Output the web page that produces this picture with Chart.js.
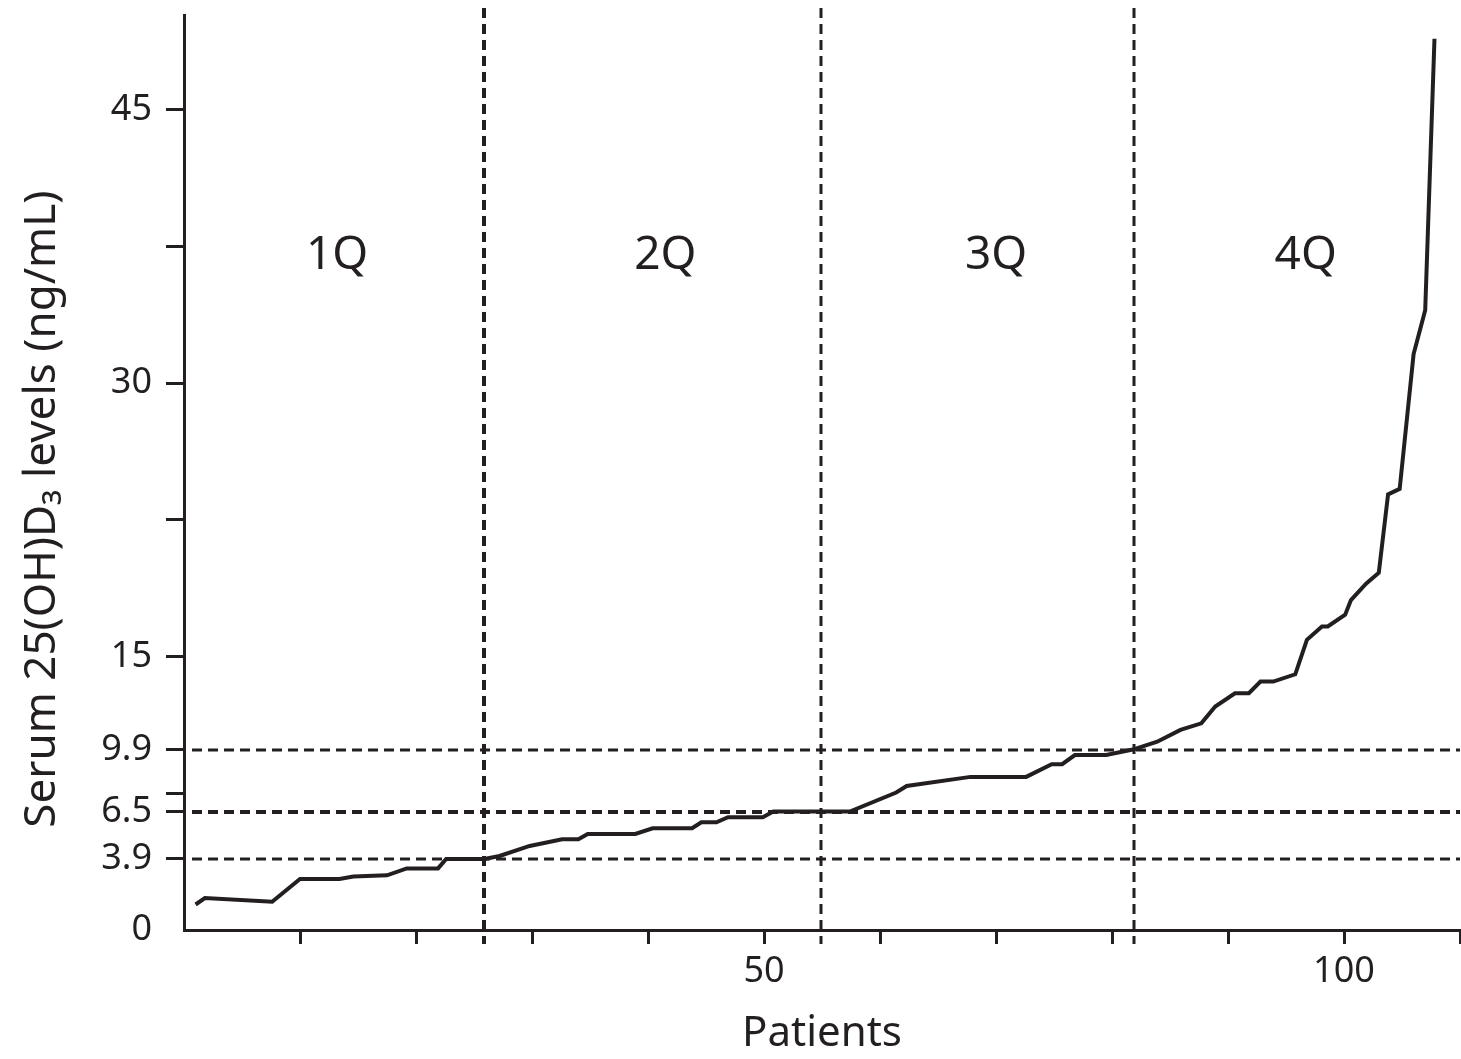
<!DOCTYPE html>
<html>
<head>
<meta charset="utf-8">
<script src="https://cdn.jsdelivr.net/npm/chart.js@4"></script>
<style>
  html, body { margin: 0; padding: 0; background: #fff; }
  #wrap { width: 1461px; height: 1059px; position: relative; }
</style>
</head>
<body>
<div id="wrap"><canvas id="graph"></canvas></div>
<script>
// Curve vertices (patient rank, serum level)
const patients = [1, 1.8, 7.6, 10, 13.4, 14.6, 17.5, 19.2, 21.9, 22.6, 25.9,
  27.2, 29.8, 32.6, 34, 34.8, 38.9, 40.4, 43.8, 44.6, 45.9, 46.9, 49.9, 50.8, 57.4,
  61.4, 62.3, 67.8, 72.6, 74.8, 75.7, 76.8, 79.5, 81.8, 83.9, 85.9, 87.7, 88.9,
  90.6, 91.8, 92.8, 93.9, 95.8, 96.8, 98.1, 98.6, 100.1, 100.6, 101.9, 103, 103.8,
  104.8, 106, 107, 107.8];
const levels = [1.4, 1.75, 1.55, 2.8, 2.8, 2.93, 3.0, 3.38, 3.38, 3.9, 3.9,
  4.06, 4.61, 4.98, 4.98, 5.27, 5.27, 5.58, 5.58, 5.91, 5.91, 6.19, 6.19, 6.5, 6.5,
  7.54, 7.9, 8.4, 8.4, 9.1, 9.1, 9.6, 9.6, 9.9, 10.33, 10.98, 11.34, 12.26,
  12.99, 12.99, 13.63, 13.63, 14.03, 15.92, 16.65, 16.65, 17.3, 18.1, 19.0, 19.6, 23.9,
  24.2, 31.6, 34.0, 48.9];

const yTicks      = [0, 3.9, 6.5, 7.5, 9.9, 15, 22.5, 30, 37.5, 45];
const yTickLabels = ['0', '3.9', '6.5', '', '9.9', '15', '', '30', '', '45'];
const xLabelled   = [50, 100];
const yTitle      = 'Serum 25(OH)D\u2083 levels (ng/mL)';

// quartile cut-offs
const cutLevels   = [3.9, 6.5, 9.9];
const cutPatients = [25.9, 54.9, 81.9];

const quartiles = ['1Q', '2Q', '3Q', '4Q'];
const quartileX = [13.2, 41.5, 70, 96.7];
const quartileY = 37;

const ink  = '#231f20';
const font = '"Noto Sans", "Open Sans", sans-serif';

const cutLines = {
  id: 'cutLines',
  afterDatasetsDraw(chart) {
    const {ctx, chartArea: area, scales: {x, y}} = chart;
    ctx.save();
    ctx.strokeStyle = ink;
    ctx.setLineDash([10, 6]);
    cutLevels.forEach((v, i) => {
      const py = Math.round(y.getPixelForValue(v));
      ctx.lineWidth = i === 1 ? 4 : 3;
      ctx.beginPath();
      ctx.moveTo(area.left + 8, py);
      ctx.lineTo(area.right, py);
      ctx.stroke();
    });
    cutPatients.forEach((v, i) => {
      const px = Math.round(x.getPixelForValue(v));
      ctx.lineWidth = i === 0 ? 4 : 3;
      ctx.beginPath();
      ctx.moveTo(px, area.top - 7);
      ctx.lineTo(px, area.bottom + 14);
      ctx.stroke();
    });
    ctx.setLineDash([]);

    // quartile names
    ctx.fillStyle = ink;
    ctx.font = '46px ' + font;
    ctx.textAlign = 'center';
    ctx.textBaseline = 'middle';
    quartiles.forEach((q, i) => {
      ctx.fillText(q, x.getPixelForValue(quartileX[i]), y.getPixelForValue(quartileY));
    });

    // y axis title, sits a bit below the middle of the axis in the original
    ctx.font = '44px ' + font;
    ctx.translate(42, area.top + (area.bottom - area.top) * 0.54);
    ctx.rotate(-Math.PI / 2);
    ctx.fillText(yTitle, 0, 0);
    ctx.restore();
  }
};

new Chart(document.getElementById('graph'), {
  type: 'line',
  data: {
    datasets: [{
      data: patients.map((p, i) => ({x: p, y: levels[i]})),
      borderColor: ink,
      borderWidth: 4,
      pointRadius: 0,
      tension: 0,
      fill: false,
    }],
  },
  options: {
    responsive: true,
    maintainAspectRatio: false,
    animation: false,
    devicePixelRatio: 1,
    layout: {padding: {top: 15, right: 1, left: 0, bottom: 0}},
    plugins: {
      legend: {display: false},
      tooltip: {enabled: false},
    },
    scales: {
      x: {
        type: 'linear',
        min: 0,
        max: 110,
        afterBuildTicks: (s) => {
          const t = [];
          for (let v = 0; v <= 110; v += 10) t.push({value: v});
          s.ticks = t;
        },
        afterFit: (s) => {
          s.height = 129;
          s.paddingLeft = 0;
          s.paddingRight = 0;
        },
        border: {display: true, color: ink, width: 3},
        grid: {
          drawOnChartArea: false,
          drawTicks: true,
          tickLength: 14,
          lineWidth: 3,
          tickColor: (c) => (c.tick && c.tick.value === 0) ? 'rgba(0,0,0,0)' : ink,
        },
        ticks: {
          autoSkip: false,
          maxRotation: 0,
          padding: 6,
          color: ink,
          font: {family: font, size: 36},
          callback: (v) => xLabelled.includes(v) ? String(v) : '',
        },
        title: {
          display: true,
          text: 'Patients',
          color: ink,
          font: {family: font, size: 42},
          padding: {top: 0, bottom: 0},
        },
      },
      y: {
        type: 'linear',
        min: 0,
        max: 50.2,
        afterBuildTicks: (s) => {
          s.ticks = yTicks.map(v => ({value: v}));
        },
        afterFit: (s) => {
          s.width = 184;
          s.paddingTop = 0;
          s.paddingBottom = 0;
        },
        border: {display: true, color: ink, width: 3},
        grid: {
          drawOnChartArea: false,
          drawTicks: true,
          tickLength: 18,
          lineWidth: 3,
          tickColor: (c) => (c.tick && c.tick.value === 0) ? 'rgba(0,0,0,0)' : ink,
        },
        ticks: {
          autoSkip: false,
          padding: 14,
          color: ink,
          font: {family: font, size: 36},
          callback: (v) => {
            const i = yTicks.indexOf(v);
            return i >= 0 ? yTickLabels[i] : '';
          },
        },
        title: {display: false},
      },
    },
  },
  plugins: [cutLines],
});
</script>
</body>
</html>
